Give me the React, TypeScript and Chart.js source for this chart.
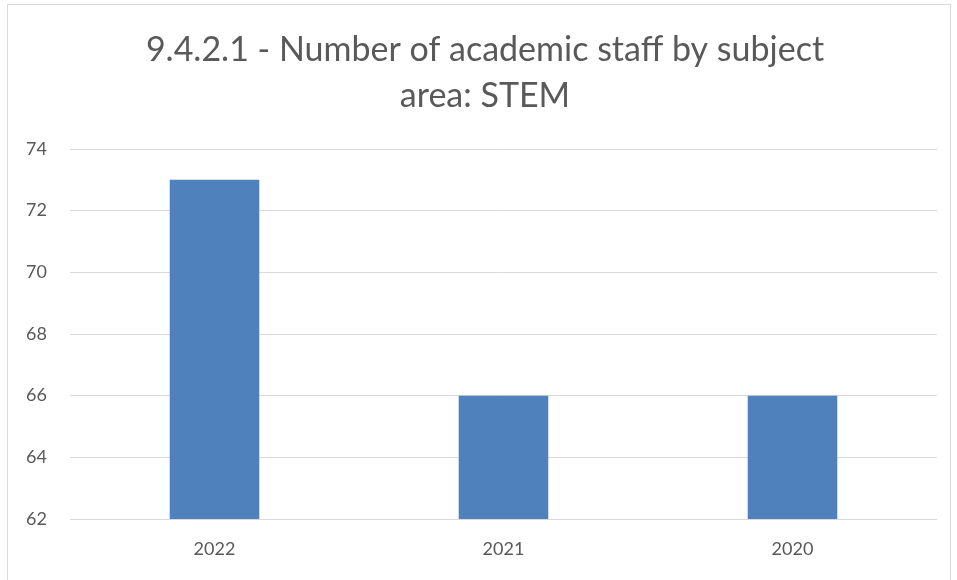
import React, { useEffect, useRef } from "react";
import { Chart, registerables } from "chart.js";

Chart.register(...registerables);

const titleLines = ["9.4.2.1 - Number of academic staff by subject", "area: STEM"];
const categories = ["2022", "2021", "2020"];
const staffValues = [73, 66, 66];
const yMin = 62;
const yMax = 74;
const yStep = 2;

const borderPlugin = {
  id: "outerBorder",
  afterLayout(chart: any) {
    const tb = chart.titleBlock;
    if (tb) {
      tb.left = 33;
      tb.right = 937;
      tb.width = tb.right - tb.left;
    }
  },
  beforeDraw(chart: any) {
    const { ctx } = chart;
    ctx.save();
    ctx.fillStyle = "#ffffff";
    ctx.fillRect(0, 0, chart.width, chart.height);
    ctx.strokeStyle = "#d9d9d9";
    ctx.lineWidth = 1;
    ctx.strokeRect(7.5, 4.5, 943, 600);
    ctx.restore();
  },
};

export default function App() {
  const ref = useRef<HTMLCanvasElement>(null);
  useEffect(() => {
    if (!ref.current) return;
    const chart = new Chart(ref.current, {
      type: "bar",
      data: {
        labels: categories,
        datasets: [
          {
            label: "STEM",
            data: staffValues,
            backgroundColor: "#4f81bd",
            borderWidth: 0,
            barPercentage: 0.31,
            categoryPercentage: 1,
          },
        ],
      },
      plugins: [borderPlugin],
      options: {
        animation: false,
        responsive: false,
        maintainAspectRatio: false,
        layout: { padding: { left: 0, right: 20, top: 0, bottom: 0 } },
        plugins: {
          legend: { display: false },
          tooltip: { enabled: false },
          title: {
            display: true,
            text: titleLines,
            color: "#595959",
            font: { family: "Lato", size: 34, weight: "normal", lineHeight: 1.353 },
            padding: { top: 27, bottom: 30 },
          },
        },
        scales: {
          x: {
            grid: { display: false, drawTicks: false },
            border: { display: false },
            ticks: {
              color: "#595959",
              font: { family: "Lato", size: 18 },
              padding: 19,
            },
            afterFit: (s: any) => {
              s.height = 61;
            },
          },
          y: {
            min: yMin,
            max: yMax,
            grid: { color: "#d9d9d9", drawTicks: false, lineWidth: 1 },
            border: { display: false },
            ticks: {
              stepSize: yStep,
              color: "#595959",
              font: { family: "Lato", size: 18 },
              padding: 23,
            },
            afterFit: (s: any) => {
              s.width = 70;
            },
          },
        },
      },
    });
    return () => chart.destroy();
  }, []);
  return (
    <div style={{ position: "fixed", left: 0, top: 0, width: 957, height: 580 }}>
      <canvas ref={ref} width={957} height={580} style={{ width: 957, height: 580, display: "block" }} />
    </div>
  );
}
